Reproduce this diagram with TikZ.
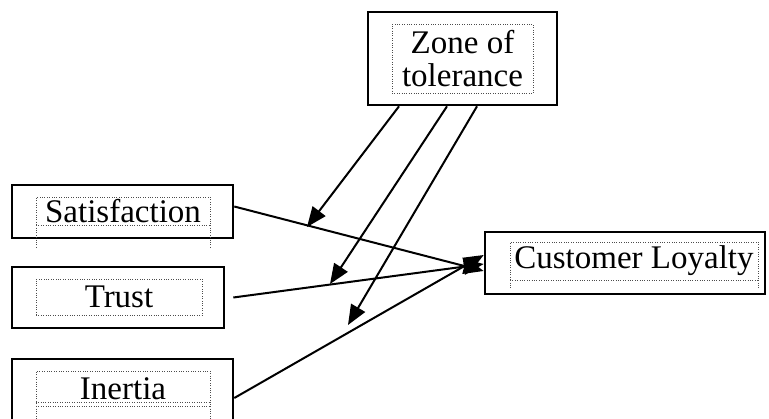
\documentclass[tikz,border=0pt]{standalone}
\usepackage{fontspec}
\setmainfont{Liberation Serif}
\usetikzlibrary{positioning,arrows.meta}

\tikzset{
  outerbox/.style={draw, line width=2.6pt, inner sep=0pt},
  textframe/.style={draw=black!70, dotted, inner sep=0pt, font=\fontsize{33}{36}\selectfont},
  link/.style={line width=2pt, -{Triangle[length=20pt,width=16pt]}}
}

\begin{document}
\begin{tikzpicture}[x=1pt,y=-1pt]
\useasboundingbox (0,0) rectangle (769,418);
%
\node[outerbox, minimum width=189pt, minimum height=93pt] (zone) at (462.5,58.5) {};
\node[textframe, minimum width=141pt, minimum height=69pt, align=center] (zoneT) at (462.5,58.5) {Zone of\\[-3pt]tolerance};
%
\node[outerbox, minimum width=221pt, minimum height=53pt] (sat) at (122.5,211.5) {};
\node[textframe, minimum width=174pt, minimum height=28pt] (satT) at (123,211) {Satisfaction};
\draw[dotted, black!70] (satT.south west) -- ++(0,23);
\draw[dotted, black!70] (satT.south east) -- ++(0,23);
%
\node[outerbox, minimum width=212pt, minimum height=61pt] (trust) at (118,297.5) {};
\node[textframe, minimum width=166pt, minimum height=36pt] (trustT) at (119,297) {Trust};
%
\node[outerbox, minimum width=221pt, minimum height=80pt] (inertia) at (122.5,399) {};
\node[textframe, minimum width=174pt, minimum height=35pt] (inertiaT) at (123,388.5) {Inertia};
\draw[dotted, black!70] (inertiaT.south west) -- ++(0,20);
\draw[dotted, black!70] (inertiaT.south east) -- ++(0,20);
\draw[dotted, black!70] ([yshift=4pt]inertiaT.south west) -- ([yshift=4pt]inertiaT.south east);
%
\node[outerbox, minimum width=280pt, minimum height=62pt] (cl) at (625,263) {};
\node[textframe, minimum width=248pt, minimum height=38pt] (clT) at (634,261) {Customer Loyalty};
\draw[dotted, black!70] (clT.south west) -- ++(0,8);
\draw[dotted, black!70] (clT.south east) -- ++(0,8);
%
\coordinate (z1) at (307,227);
\coordinate (z2) at (330,284);
\coordinate (z3) at (348,325);
%
\draw[link] ([yshift=5pt]sat.east) -- ([yshift=-8pt]cl.west);
\draw[link] ([xshift=8pt]trust.east) -- ([yshift=-1pt]cl.west);
\draw[link] ([yshift=1pt]inertia.east) -- ([yshift=8pt]cl.west);
%
\draw[link] ([xshift=-63.5pt]zone.south) -- (z1);
\draw[link] ([xshift=-15.5pt]zone.south) -- (z2);
\draw[link] ([xshift=14.5pt]zone.south) -- (z3);
\end{tikzpicture}
\end{document}
